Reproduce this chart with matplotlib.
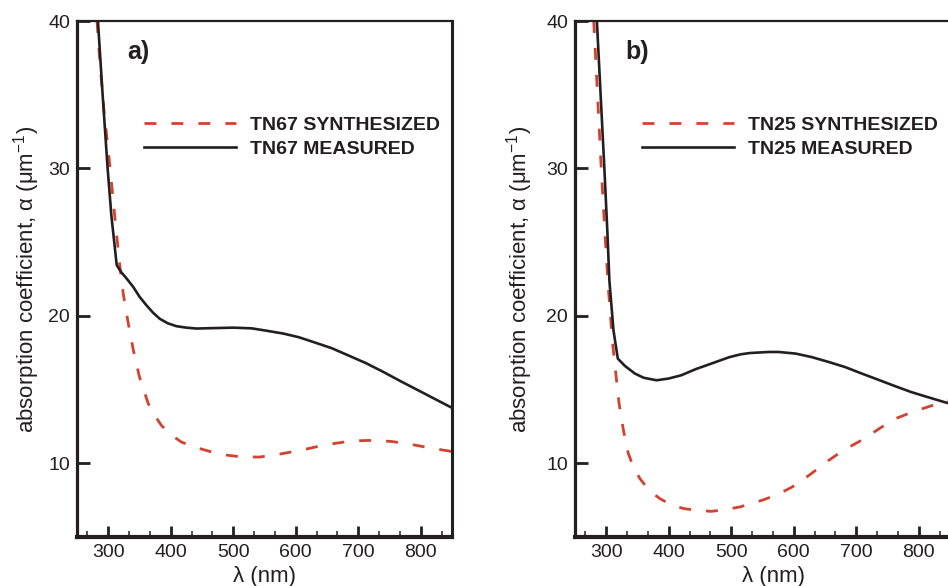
import matplotlib
matplotlib.use("Agg")
import matplotlib.pyplot as plt
from matplotlib.ticker import MultipleLocator, FixedLocator

plt.rcParams['font.family'] = ['Liberation Sans', 'DejaVu Sans']
plt.rcParams['mathtext.fontset'] = 'custom'
plt.rcParams['mathtext.rm'] = 'Liberation Sans'

# ---- TN67 (panel a) ----
tn67_meas_wl = [283.5, 291, 299, 305, 313.5, 320, 330, 340, 350, 361, 372, 382.5, 395,
                409, 425, 441, 470, 500, 530, 552, 580, 605, 630, 658, 685, 712, 740,
                765, 800, 825, 850]
tn67_meas = [40, 35, 30, 26.8, 23.45, 23.0, 22.5, 21.96, 21.3, 20.72, 20.2, 19.8, 19.5,
             19.3, 19.2, 19.14, 19.17, 19.2, 19.15, 19.0, 18.8, 18.55, 18.2, 17.8, 17.3,
             16.8, 16.2, 15.63, 14.86, 14.31, 13.76]
tn67_syn_wl = [282, 287, 293, 303, 311, 318, 324, 332, 340, 350, 364, 375, 385, 400,
               417, 435, 451, 467, 490, 510, 541, 565, 584, 610, 631, 655, 679, 700,
               716, 735, 753, 775, 795, 820, 850]
tn67_syn = [40, 37, 34, 30, 26.5, 23.6, 21.5, 19.5, 17.7, 15.85, 14.05, 13.2, 12.57, 11.95,
            11.44, 11.15, 10.94, 10.75, 10.55, 10.45, 10.42, 10.55, 10.7, 10.9, 11.1, 11.3,
            11.45, 11.53, 11.55, 11.53, 11.48, 11.35, 11.2, 11.0, 10.8]

# ---- TN25 (panel b) ----
tn25_meas_wl = [285, 291, 297, 302, 305, 311.6, 318.5, 330, 346, 360, 380.5, 400, 420,
                444, 468, 497, 515, 530, 560, 576, 603, 629, 656, 682, 708, 735, 761,
                788, 815, 841, 850]
tn25_meas = [40, 35, 30, 25.5, 22.4, 19.0, 17.1, 16.6, 16.08, 15.8, 15.63, 15.75, 15.97,
             16.4, 16.76, 17.2, 17.39, 17.48, 17.55, 17.55, 17.44, 17.2, 16.87, 16.53,
             16.1, 15.67, 15.25, 14.83, 14.48, 14.15, 14.05]
tn25_syn_wl = [280, 286, 292, 298, 303.7, 310, 315, 320.5, 327.5, 335, 343, 354, 370,
               386, 405, 425, 447, 468, 490, 515, 530, 550, 575, 597, 625, 656, 680,
               708, 735, 761, 790, 820, 843, 850]
tn25_syn = [40, 35, 30, 25.5, 21.7, 18.2, 16.2, 14.05, 12.24, 10.7, 9.8, 8.95, 8.1, 7.6,
            7.15, 6.92, 6.8, 6.74, 6.85, 7.05, 7.25, 7.5, 7.9, 8.38, 9.2, 10.2, 10.9,
            11.55, 12.3, 13.0, 13.48, 13.9, 14.18, 14.25]

panels = [
    dict(tag="a)", name="TN67", syn=(tn67_syn_wl, tn67_syn), meas=(tn67_meas_wl, tn67_meas),
         rect=[77 / 948, 49 / 586, 375 / 948, 516 / 586], ylab_x=-0.093, xlab_x=0.5),
    dict(tag="b)", name="TN25", syn=(tn25_syn_wl, tn25_syn), meas=(tn25_meas_wl, tn25_meas),
         rect=[575 / 948, 49 / 586, 375 / 948, 516 / 586], ylab_x=-0.106, xlab_x=0.528),
]

x_ticks = [300, 400, 500, 600, 700, 800]
y_ticks = [10, 20, 30, 40]

RED = "#d1432f"
INK = "#231f20"

fig = plt.figure(figsize=(9.48, 5.86), dpi=100)
for p in panels:
    ax = fig.add_axes(p["rect"])
    ax.plot(*p["syn"], color=RED, lw=2.0, dashes=(4.3, 5.4),
            label=f"{p['name']} SYNTHESIZED")
    ax.plot(*p["meas"], color=INK, lw=1.9, label=f"{p['name']} MEASURED")

    ax.set_xlim(250, 850)
    ax.set_ylim(5, 40)
    ax.xaxis.set_major_locator(FixedLocator(x_ticks))
    ax.xaxis.set_minor_locator(MultipleLocator(100 / 3))
    ax.yaxis.set_major_locator(FixedLocator(y_ticks))

    ax.tick_params(which="both", direction="in", top=False, right=False,
                   labelsize=14, colors=INK, pad=5)
    ax.tick_params(which="major", length=8, width=2)
    ax.tick_params(which="minor", length=4, width=1.1)
    ax.tick_params(axis="y", which="major", length=9)

    for side, w in (("bottom", 3.0), ("left", 2.3), ("top", 1.6), ("right", 2.2)):
        ax.spines[side].set_linewidth(w)
        ax.spines[side].set_color(INK)

    ax.set_ylabel("absorption coefficient, \u03b1 (\u03bcm$^{\\mathregular{-1}}$)",
                  fontsize=16, color=INK)
    ax.set_xlabel("\u03bb (nm)", fontsize=16, color=INK)
    ax.yaxis.set_label_coords(p["ylab_x"], 0.5)
    ax.xaxis.set_label_coords(p["xlab_x"], -0.057)

    ax.text(0.133, 0.927, p["tag"], transform=ax.transAxes, fontsize=18,
            fontweight="bold", color=INK, va="baseline")

    leg = ax.legend(loc="upper left", bbox_to_anchor=(0.179, 0.815), frameon=False,
                    borderpad=0, borderaxespad=0, handlelength=4.7,
                    handletextpad=0.75, labelspacing=0.3,
                    prop=dict(size=14, weight="bold"))
    for t in leg.get_texts():
        t.set_color(INK)

fig.savefig("out.png", dpi=100)
